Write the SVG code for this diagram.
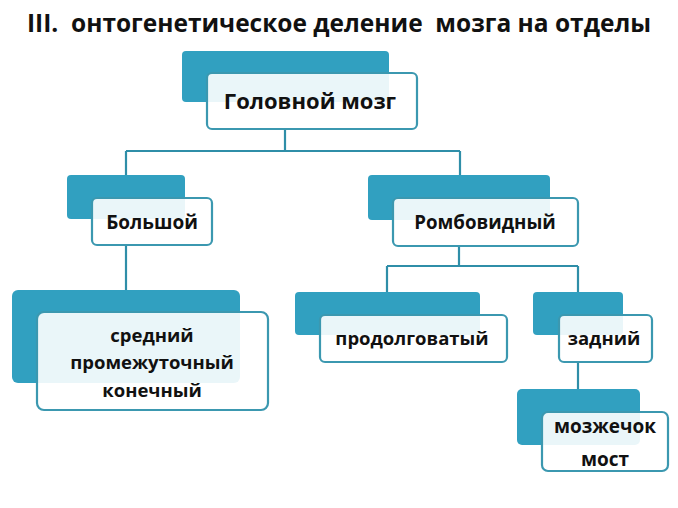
<svg xmlns="http://www.w3.org/2000/svg" width="678" height="508" viewBox="0 0 678 508">
<style>
.back{fill:#31a0c0;}
.front{fill:#ffffff;fill-opacity:0.9;stroke:#3b98b0;stroke-width:2.2;}
.lbl{font-family:"Open Sans","Liberation Sans",sans-serif;font-weight:bold;fill:#111;text-anchor:middle;}
.conn{fill:none;stroke:#2f8ea8;stroke-width:2.2;}
</style>
<rect width="678" height="508" fill="#fff"/>
<text x="27" y="32" xml:space="preserve" style="white-space:pre" font-family="'Open Sans','Liberation Sans',sans-serif" font-weight="bold" font-size="25" fill="#111" textLength="624" lengthAdjust="spacingAndGlyphs">III.  онтогенетическое деление  мозга на отделы</text>
<g id="connectors">
<path class="conn" d="M285 129 V151 M126 151 H460 M126 151 V175 M460 151 V175"/>
<path class="conn" d="M126 245 V290"/>
<path class="conn" d="M459 246 V266 M387 266 H578 M387 266 V292 M578 266 V292"/>
<path class="conn" d="M578 362 V389"/>
</g>
<g id="n-root">
<rect class="back" x="182" y="51" width="207" height="51" rx="4"/>
<rect class="front" x="207" y="73" width="210" height="56" rx="5"/>
<text class="lbl" x="310" y="109" font-size="22">Головной мозг</text>
</g>
<g id="n-big">
<rect class="back" x="67" y="175" width="118" height="44" rx="4"/>
<rect class="front" x="92" y="198" width="120" height="47" rx="5"/>
<text class="lbl" x="152" y="229" font-size="19">Большой</text>
</g>
<g id="n-romb">
<rect class="back" x="368" y="175" width="182" height="45" rx="4"/>
<rect class="front" x="393" y="198" width="185" height="48" rx="5"/>
<text class="lbl" x="485" y="229" font-size="18.7">Ромбовидный</text>
</g>
<g id="n-fore">
<rect class="back" x="12" y="290" width="228" height="93" rx="6"/>
<rect class="front" x="37" y="312" width="231" height="98" rx="7"/>
<text class="lbl" x="152" y="342" font-size="18.5">средний</text>
<text class="lbl" x="152" y="369" font-size="18.5">промежуточный</text>
<text class="lbl" x="152" y="397" font-size="18.5">конечный</text>
</g>
<g id="n-prod">
<rect class="back" x="295" y="292" width="185" height="43" rx="4"/>
<rect class="front" x="320" y="315" width="187" height="47" rx="5"/>
<text class="lbl" x="412" y="345" font-size="18.5">продолговатый</text>
</g>
<g id="n-zad">
<rect class="back" x="533" y="292" width="90" height="43" rx="4"/>
<rect class="front" x="559" y="315" width="93" height="47" rx="5"/>
<text class="lbl" x="604" y="345" font-size="18.5">задний</text>
</g>
<g id="n-cereb">
<rect class="back" x="517" y="389" width="123" height="56" rx="5"/>
<rect class="front" x="542" y="412" width="126" height="59" rx="6"/>
<text class="lbl" x="605" y="433" font-size="19">мозжечок</text>
<text class="lbl" x="605" y="466" font-size="19">мост</text>
</g>
</svg>
